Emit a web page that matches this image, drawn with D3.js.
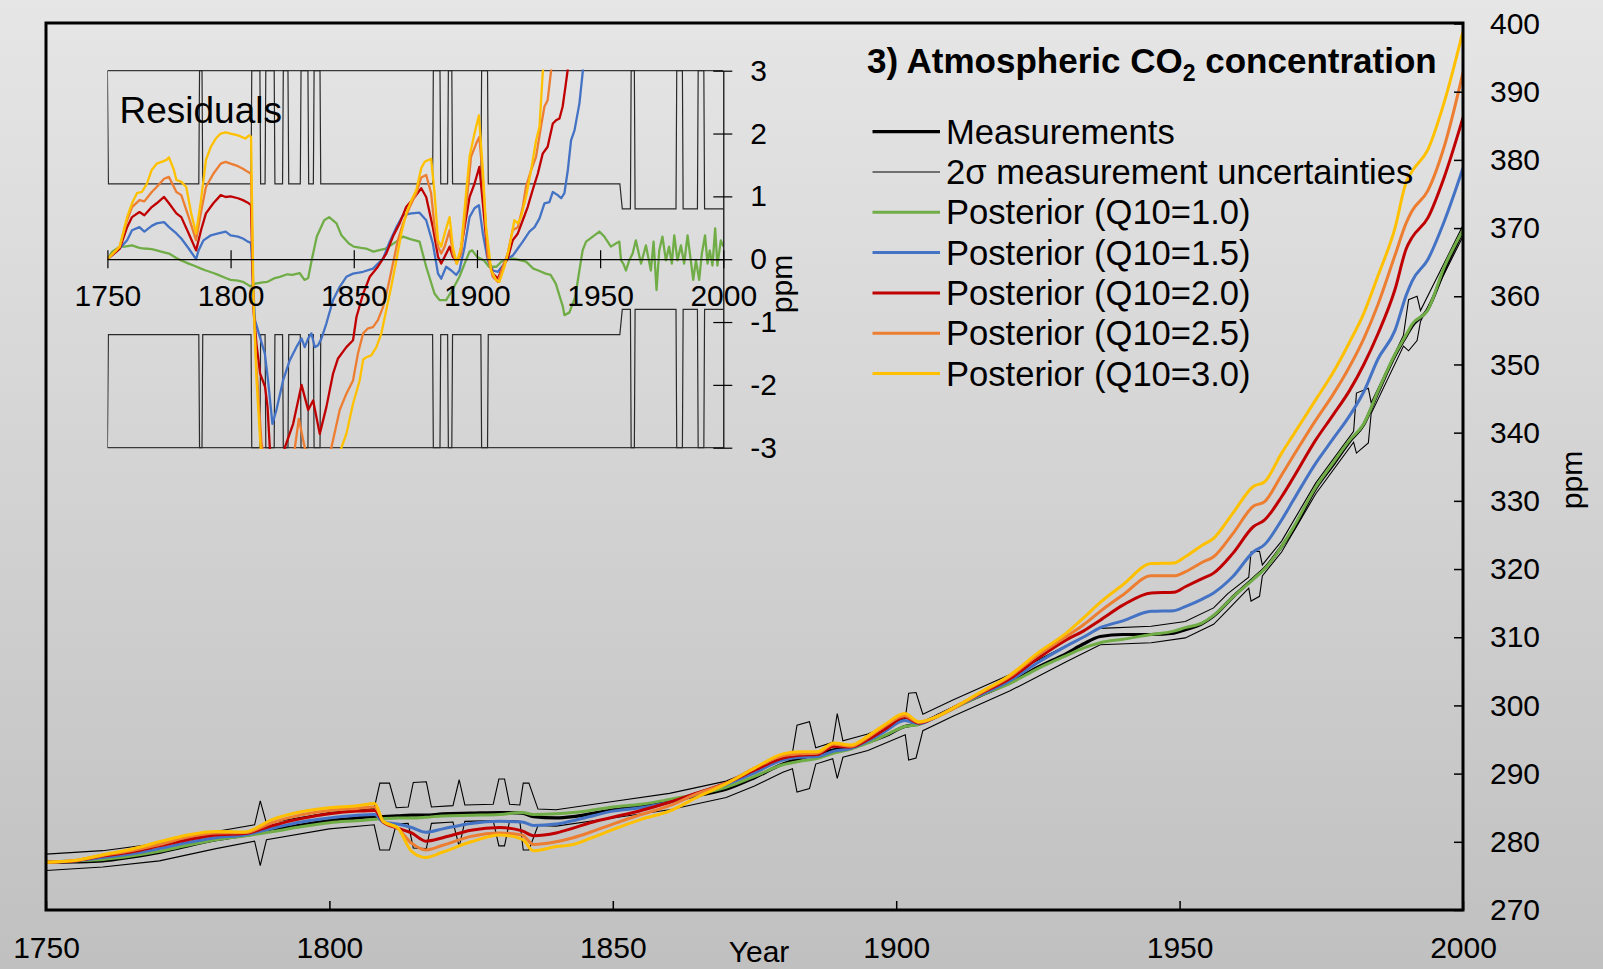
<!DOCTYPE html>
<html>
<head>
<meta charset="utf-8">
<script src="https://cdn.jsdelivr.net/npm/d3@7/dist/d3.min.js"></script>
<style>
  html, body { margin: 0; padding: 0; overflow: hidden; background: #d4d4d4; }
  svg text { font-family: "Liberation Sans", Arial, sans-serif; fill: #000; }
</style>
</head>
<body>
<svg id="main-svg" width="1603" height="969"></svg>
<script>
// years shared by the measurement and the posterior curves of the main panel
const measYears = [
  1750,1755,1760,1765,1770,1775,1780,1785,1790,1795,
  1800,1805,1808,1809.5,1812,1814.5,1817,1820,1825,1830,
  1834,1836,1840,1843,1846,1850,1855,1860,1865,1870,
  1875,1880,1883,1886,1889,1892,1895,1898,1901.5,1904,
  1907,1910,1915,1920,1925,1930,1933,1936,1940,1945,
  1949,1951,1954,1956,1959.4,1963,1965,1968,1970,1974,
  1977,1980,1982.5,1985,1988,1990,1991,1993.8,1996.7,2000];

const measured = [
  277.0,277.05,277.2,277.75,278.45,279.4,280.3,280.95,281.7,282.45,
  283.1,283.5,283.7,283.7,283.8,283.9,283.9,284.1,284.2,284.3,
  284.2,283.7,283.5,283.7,284.1,284.7,285.2,285.9,286.8,287.7,
  289.4,291.4,292.2,292.8,293.5,293.9,294.6,295.5,296.9,297.3,
  298.4,299.6,301.5,303.3,305.6,307.6,309.0,310.1,310.4,310.4,
  310.6,311.1,312.0,313.1,315.9,318.6,320.1,323.3,325.7,331.8,
  335.2,338.7,341.2,345.9,351.3,354.2,355.6,358.1,363.8,369.6];

const postQ10_1_0 = [
  277.0,277.2,277.4,277.9,278.6,279.5,280.3,280.85,281.5,282.2,
  282.8,283.1,283.3,283.4,283.5,283.5,283.6,283.8,283.9,284.0,
  284.3,284.0,284.1,284.3,284.6,285.1,285.5,286.2,287.0,288.0,
  289.6,291.3,291.8,292.2,293.0,293.6,294.5,295.6,296.9,297.2,
  298.3,299.5,301.5,303.2,305.4,307.3,308.4,309.2,309.7,310.4,
  310.9,311.4,312.1,313.2,315.9,318.5,320.0,323.3,326.0,332.0,
  335.5,338.9,341.3,346.1,351.5,354.4,355.9,358.0,364.3,369.7];

const postQ10_1_5 = [
  277.0,277.2,277.7,278.2,279.0,279.9,280.6,281.0,282.0,282.9,
  283.5,283.9,284.0,282.9,282.6,282.1,281.4,281.9,282.7,283.0,
  282.9,282.4,282.6,283.1,283.7,284.5,285.0,285.8,287.0,288.4,
  290.1,292.0,292.4,292.5,293.3,293.7,294.8,296.2,297.8,297.3,
  298.3,299.6,301.6,303.6,306.3,308.7,310.0,311.4,312.4,313.8,
  313.9,314.5,315.6,316.5,318.9,322.5,323.6,327.2,330.0,335.5,
  339.0,342.5,346.0,350.8,355.0,360.2,362.2,365.4,371.0,378.8];

const postQ10_2_0 = [
  277.0,277.2,277.9,278.5,279.4,280.3,281.0,281.2,282.4,283.4,
  284.1,284.5,284.6,282.9,282.0,281.3,280.1,280.6,281.7,282.1,
  281.6,280.9,281.3,282.0,282.8,283.6,284.6,285.8,287.2,288.6,
  290.5,292.3,292.7,292.8,294.0,293.9,295.0,296.5,298.3,297.4,
  298.3,299.6,301.8,303.9,306.9,309.6,310.9,312.5,314.7,316.5,
  316.6,317.4,318.6,319.4,322.3,326.2,327.2,330.6,333.3,338.9,
  342.5,346.2,350.0,354.5,361.0,367.0,368.6,371.5,377.5,386.2];

const postQ10_2_5 = [
  277.0,277.25,278.0,278.7,279.6,280.7,281.3,281.35,282.85,283.95,
  284.6,284.9,285.1,283.0,282.0,279.8,278.8,279.5,280.8,281.3,
  281.0,279.6,280.0,280.6,281.4,282.6,284.0,285.3,287.1,288.6,
  290.8,292.6,292.9,293.0,294.3,294.0,295.3,297.0,298.5,297.5,
  298.3,299.5,301.9,304.2,307.4,310.1,311.8,313.8,316.2,319.0,
  319.0,319.6,321.0,321.8,325.2,329.2,329.9,333.8,336.5,341.8,
  345.5,349.7,353.8,358.8,366.0,370.8,372.5,375.5,382.0,392.8];

const postQ10_3_0 = [
  277.0,277.25,278.1,278.9,280.0,281.0,281.5,281.45,283.3,284.4,
  285.0,285.3,285.6,283.0,282.1,278.6,277.7,278.5,280.0,281.0,
  280.4,278.7,279.3,279.6,280.5,281.8,283.3,284.5,286.6,288.5,
  290.8,292.9,293.2,293.2,294.5,294.2,295.5,297.2,298.8,297.6,
  298.3,299.6,302.0,304.4,307.7,310.6,312.8,315.1,317.7,320.8,
  320.9,321.8,323.5,324.5,328.2,332.1,332.8,337.0,339.6,344.8,
  348.7,353.3,357.5,363.0,370.0,376.8,378.3,381.5,388.5,398.9];

// 2 sigma measurement band of the main panel, [year, ppm]
const bandUpper = [
  [1750,278.2],[1760,278.7],[1770,279.8],[1780,281.5],[1786.8,282.5],[1787.8,286.0],[1788.9,282.7],
  [1800,284.3],[1807.9,284.9],[1808.9,288.6],[1810.6,288.6],[1811.8,285.0],[1813.9,285.1],[1814.8,288.7],
  [1817.1,288.8],[1818.0,285.1],[1821.8,285.3],[1822.9,289.1],[1823.9,285.4],[1828.9,285.5],[1829.9,289.2],
  [1830.9,289.2],[1831.8,285.5],[1833.6,285.4],[1834.2,288.6],[1835.2,288.6],[1836.8,284.8],[1840,284.7],
  [1850,285.9],[1860,287.1],[1870,288.9],[1875,290.6],[1880,292.6],[1881.7,293.1],[1882.5,297.1],
  [1884.7,297.6],[1885.8,293.8],[1888.8,294.6],[1889.6,298.8],[1890.6,294.8],[1895,295.8],[1901.6,298.1],
  [1902.2,301.8],[1903.5,301.9],[1904.7,298.7],[1910,300.8],[1920,304.5],[1930,308.8],[1936,311.3],
  [1945,311.6],[1951,312.3],[1956,314.3],[1958.5,316.4],[1962.2,318.8],[1962.6,322.5],[1964.1,322.6],
  [1964.6,320.6],[1968,324.1],[1974,332.6],[1980.7,340.2],[1981.2,345.8],[1983.3,346.5],[1983.8,344.4],
  [1989.5,354.3],[1990.4,359.5],[1991.9,360.0],[1992.5,357.9],[2000,370.4]];

const bandLower = [
  [1750,275.8],[1760,276.3],[1770,277.2],[1780,279.0],[1786.8,280.1],[1787.8,276.5],[1788.9,280.3],
  [1800,281.9],[1807.9,282.5],[1808.9,278.8],[1810.6,278.8],[1811.8,282.6],[1813.9,282.7],[1814.8,279.1],
  [1817.1,279.0],[1818.0,282.7],[1821.8,282.9],[1822.9,279.3],[1823.9,283.0],[1828.9,283.1],[1829.9,279.4],
  [1830.9,279.4],[1831.8,283.1],[1833.6,283.0],[1834.2,278.8],[1835.2,278.8],[1836.8,282.4],[1840,282.3],
  [1850,283.5],[1860,284.7],[1870,286.5],[1875,288.2],[1880,290.2],[1881.7,290.7],[1882.5,287.3],
  [1884.7,287.8],[1885.8,291.4],[1888.8,292.2],[1889.6,289.3],[1890.6,292.4],[1895,293.4],[1901.6,295.7],
  [1902.2,292.0],[1903.5,292.3],[1904.7,296.3],[1910,298.4],[1920,302.1],[1930,306.4],[1936,308.9],
  [1945,309.2],[1951,309.9],[1956,311.9],[1958.5,314.0],[1962.2,317.2],[1962.6,315.3],[1964.1,316.0],
  [1964.6,319.0],[1968,322.5],[1974,331.0],[1980.7,338.6],[1981.2,337.0],[1983.3,338.5],[1983.8,342.8],
  [1989.5,352.7],[1990.4,352.0],[1991.9,353.5],[1992.5,356.3],[2000,368.8]];

// residuals (inset), [year, ppm]
const resQ10_1_0 = [
  [1750,0],[1752,0.12],[1755,0.2],[1757,0.2],[1760,0.22],[1763,0.18],[1765,0.17],[1768,0.16],[1770,0.14],
  [1773,0.11],[1775,0.09],[1778,0.02],[1780,-0.02],[1783,-0.07],[1785,-0.1],[1788,-0.15],[1790,-0.18],
  [1793,-0.22],[1795,-0.25],[1798,-0.3],[1800,-0.33],[1803,-0.34],[1805,-0.36],[1808,-0.43],[1810,-0.39],
  [1813,-0.37],[1815,-0.36],[1818,-0.3],[1820,-0.28],[1823,-0.24],[1825,-0.25],[1828,-0.22],[1830,-0.33],
  [1831.5,-0.3],[1833,0],[1835,0.36],[1838,0.62],[1840,0.67],[1843,0.57],[1845,0.38],[1848,0.25],
  [1850,0.2],[1853,0.18],[1855,0.17],[1858,0.12],[1860,0.14],[1863,0.17],[1865,0.22],[1868,0.3],
  [1870,0.36],[1873,0.32],[1876.7,0.28],[1879.4,-0.12],[1882.8,-0.55],[1884.8,-0.65],[1887.5,-0.65],
  [1890,-0.49],[1892.9,-0.28],[1895,-0.07],[1897,0.12],[1898.1,0.14],[1900,0.04],[1902.9,-0.02],
  [1904.9,-0.12],[1907.9,-0.12],[1909.9,-0.04],[1912.9,0.01],[1914.9,0.01],[1917.9,-0.02],[1919.9,-0.04],
  [1922.9,-0.15],[1924.9,-0.18],[1927.9,-0.23],[1929.9,-0.25],[1932,-0.39],[1934.9,-0.76],[1935.5,-0.89],
  [1937.5,-0.85],[1939.9,-0.6],[1941.5,-0.2],[1942.9,0.14],[1944.3,0.28],[1947,0.36],[1949.7,0.44],
  [1951.7,0.36],[1954.4,0.2],[1956.4,0.25],[1957.8,0.28],[1958.5,-0.02],[1959.4,-0.07],[1960.5,-0.18],
  [1961.8,-0.02],[1963.2,0.09],[1964.5,0.3],[1966.6,-0.07],[1968.6,0.22],[1970.6,-0.18],[1971.7,0.28],
  [1972.9,-0.49],[1974,0.14],[1975.3,0.36],[1976.7,-0.02],[1978,0.2],[1979.1,-0.07],[1980.1,0.38],
  [1981.4,-0.02],[1982.8,0.22],[1984.1,-0.07],[1985.5,0.38],[1986.8,-0.02],[1987.8,-0.33],[1988.9,-0.02],
  [1990.2,-0.33],[1991.3,0.09],[1992.6,0.38],[1993.6,-0.07],[1994.5,0.14],[1995.6,-0.1],[1996.7,0.49],
  [1997.6,-0.1],[1999,0.3],[2000,0.2]];

const resQ10_1_5 = [
  [1750,0],[1753,0.1],[1755,0.17],[1758,0.3],[1760,0.46],[1763,0.51],[1765,0.44],[1768,0.53],[1770,0.57],
  [1773,0.59],[1775,0.51],[1778,0.41],[1780,0.33],[1783,0.17],[1786,0.0],[1787,0.14],[1789,0.3],[1792,0.38],
  [1795,0.41],[1798,0.44],[1800,0.38],[1803,0.36],[1805,0.33],[1807,0.28],[1808.3,0.26],[1809.9,-0.97],
  [1811.9,-1.24],[1813.9,-1.5],[1815.2,-1.93],[1817,-2.62],[1818.6,-2.4],[1821.3,-1.93],[1824,-1.61],
  [1826.7,-1.4],[1828.8,-1.26],[1830.1,-1.4],[1831.5,-1.26],[1832.8,-1.18],[1834.2,-1.4],[1835.5,-1.37],
  [1836.9,-1.26],[1838.9,-1.02],[1841.6,-0.65],[1844.3,-0.44],[1847,-0.28],[1849.7,-0.23],[1853.8,-0.2],
  [1857.8,-0.15],[1861.9,0.01],[1864.6,0.28],[1867.3,0.51],[1870,0.7],[1873.4,0.73],[1876.7,0.74],
  [1879.4,0.62],[1882.1,0.25],[1884.2,-0.23],[1885.5,-0.31],[1887.5,-0.12],[1889.6,-0.18],[1891.6,-0.25],
  [1892.9,-0.18],[1895,0.2],[1897,0.67],[1899,0.81],[1900.8,0.86],[1902.4,0.41],[1904.4,-0.02],
  [1906.5,-0.18],[1908.5,-0.2],[1910.5,-0.1],[1912.5,0.01],[1914.6,0.06],[1916.6,0.17],[1918.6,0.28],
  [1921.3,0.44],[1923.4,0.51],[1925.4,0.65],[1927.4,0.89],[1929.4,0.91],[1930.8,1.07],[1932.8,1.02],
  [1934.2,0.97],[1935.5,1.05],[1936.9,1.42],[1938.2,1.89],[1939.6,2.05],[1941.6,2.48],[1943,3.0],[1945,3.8]];

const resQ10_2_0 = [
  [1750,0],[1753,0.1],[1755,0.17],[1758,0.51],[1760,0.67],[1763,0.75],[1765,0.7],[1768,0.83],[1770,0.89],
  [1773,0.99],[1775,0.89],[1778,0.73],[1780,0.67],[1783,0.41],[1786,0.14],[1788,0.46],[1790,0.73],
  [1793,0.89],[1796,1.02],[1798,0.99],[1800,1.0],[1803,0.97],[1805,0.94],[1807,0.9],[1808.3,0.86],
  [1809.3,-0.8],[1810.5,-1.35],[1812,-1.82],[1814,-2.03],[1815,-2.35],[1816.5,-3.4],[1819,-3.8],
  [1822,-3.0],[1825.4,-2.62],[1828.8,-2.0],[1831.5,-2.4],[1833.5,-2.25],[1836.2,-2.78],[1838.9,-2.35],
  [1841.6,-1.82],[1843.6,-1.58],[1847,-1.4],[1849.7,-1.29],[1851.1,-0.92],[1853.8,-0.55],[1856.5,-0.28],
  [1859.8,-0.12],[1863.2,0.09],[1865.9,0.36],[1868.6,0.57],[1871.3,0.83],[1874.7,0.99],[1877.4,1.13],
  [1879.4,0.99],[1882.1,0.51],[1884.2,0.04],[1885.5,-0.07],[1886.9,0.04],[1888.9,0.2],[1890.2,0.04],
  [1891.6,-0.02],[1892.9,0.04],[1895,0.51],[1897,0.99],[1899,1.2],[1901,1.47],[1902.4,0.89],[1904.4,0.04],
  [1906.4,-0.23],[1908.5,-0.31],[1910.5,-0.12],[1912.5,0.01],[1914.5,0.3],[1916.6,0.41],[1918.6,0.62],
  [1920.6,0.83],[1922.6,1.1],[1924.7,1.36],[1926.7,1.68],[1928.7,1.79],[1930.8,2.16],[1932.1,2.21],
  [1933.5,2.24],[1934.8,2.43],[1935.9,2.74],[1936.8,3.0],[1939,4.0]];

const resQ10_2_5 = [
  [1750,0],[1753,0.12],[1755,0.2],[1758,0.62],[1760,0.83],[1763,0.94],[1765,0.92],[1768,1.07],[1770,1.15],
  [1773,1.28],[1775,1.31],[1778,1.07],[1780,1.02],[1783,0.67],[1786,0.3],[1788,0.75],[1790,1.15],
  [1793,1.36],[1796,1.52],[1798,1.55],[1800,1.52],[1803,1.48],[1805,1.44],[1807,1.39],[1808.3,1.36],
  [1809.3,-0.75],[1810.5,-1.7],[1812.5,-2.9],[1814,-3.3],[1820,-3.8],[1826.1,-3.0],[1827.7,-2.54],
  [1830.1,-3.0],[1835,-3.6],[1840.9,-3.0],[1844.3,-2.4],[1847,-2.14],[1849.7,-1.93],[1851.7,-1.5],
  [1853.8,-1.18],[1855.8,-1.1],[1857.8,-1.08],[1859.8,-0.97],[1861.9,-0.76],[1863.9,-0.44],[1865.9,-0.07],
  [1867.9,0.3],[1870,0.57],[1872.7,0.83],[1875.4,1.05],[1877.4,1.3],[1879.4,1.34],[1881.4,1.05],
  [1882.8,0.51],[1884.2,0.2],[1885.5,0.09],[1886.9,0.2],[1888.9,0.46],[1890.2,0.09],[1891.8,-0.07],
  [1893.6,0.09],[1895.6,0.83],[1897.6,1.63],[1899.7,1.84],[1901,1.95],[1902.4,1.26],[1904.4,0.04],
  [1906.4,-0.28],[1908.5,-0.36],[1910.5,-0.12],[1912.5,0.09],[1914.5,0.46],[1916.6,0.51],[1918.6,0.83],
  [1919.9,1.15],[1922,1.42],[1924,1.63],[1926,2.11],[1927.4,2.43],[1928.7,2.53],[1930.1,3.0],[1932,4.0]];

const resQ10_3_0 = [
  [1750,0],[1753,0.12],[1755,0.2],[1758,0.67],[1760,0.89],[1762,1.05],[1764,1.07],[1766,1.2],[1768,1.42],
  [1770,1.52],[1772,1.55],[1774,1.58],[1775,1.62],[1777,1.42],[1778,1.26],[1780,1.23],[1782,1.15],
  [1784,0.73],[1786,0.41],[1788,0.94],[1790,1.58],[1792,1.79],[1794,1.92],[1796,2.0],[1798,2.02],
  [1800,2.0],[1803,1.97],[1806,1.92],[1807.5,1.97],[1808.3,1.95],[1809.3,-0.6],[1810.5,-1.9],[1812.5,-3.2],
  [1820,-4.0],[1835,-4.0],[1845,-3.0],[1847,-2.78],[1849.7,-2.3],[1852.4,-1.93],[1853.8,-1.6],
  [1855.1,-1.56],[1857.1,-1.53],[1859.2,-1.4],[1861.2,-1.18],[1863.2,-0.81],[1865.2,-0.44],[1867.3,-0.02],
  [1869.3,0.41],[1871.3,0.73],[1873.4,0.94],[1875.4,1.1],[1877.4,1.45],[1878.8,1.55],[1881.4,1.6],
  [1882.8,1.05],[1884.2,0.3],[1885.5,0.2],[1886.9,0.41],[1888.9,0.67],[1890.2,0.2],[1891.8,-0.07],
  [1893.6,0.2],[1895.6,1.05],[1897,1.63],[1899,2.0],[1900.8,2.29],[1902.4,1.42],[1903.7,0.51],
  [1905.8,-0.18],[1907.8,-0.33],[1909.1,-0.36],[1911.2,-0.12],[1913.2,0.2],[1915.2,0.62],[1916.6,0.57],
  [1917.9,0.67],[1919.9,0.99],[1922,1.42],[1924,1.89],[1925.4,2.11],[1926.7,2.96],[1927.4,3.2],[1929,4.5]];

// 2 sigma band in residual space (clipped at +/-3 in the picture)
const resBandUpper = [
  [1750,3],[1750.4,1.2],[1787.1,1.2],[1787.4,3],[1788.4,3],[1788.7,1.2],[1808.3,1.2],[1808.6,3],
  [1811.9,3],[1812.2,1.2],[1814.0,1.2],[1814.3,3],[1817.7,3],[1818.0,1.2],[1821.1,1.2],[1821.4,3],
  [1823.3,3],[1823.6,1.2],[1828.3,1.2],[1828.6,3],[1831.4,3],[1831.7,1.2],[1833.6,1.2],[1833.9,3],
  [1836.3,3],[1836.6,1.2],[1882.0,1.2],[1882.3,3],[1885.0,3],[1885.3,1.2],[1888.1,1.2],[1888.4,3],
  [1889.8,3],[1890.1,1.2],[1901.6,1.2],[1901.9,3],[1904.3,3],[1904.6,1.2],[1958.0,1.2],[1959.0,0.8],
  [1962.3,0.8],[1962.6,3],[1963.9,3],[1964.2,0.8],[1980.8,0.8],[1981.1,3],[1983.4,3],[1983.7,0.8],
  [1989.5,0.8],[1989.8,3],[1992.1,3],[1992.4,0.8],[2000,0.8]];

const resBandLower = [
  [1750,-3],[1750.4,-1.2],[1787.1,-1.2],[1787.4,-3],[1788.4,-3],[1788.7,-1.2],[1808.3,-1.2],[1808.6,-3],
  [1811.9,-3],[1812.2,-1.2],[1814.0,-1.2],[1814.3,-3],[1817.7,-3],[1818.0,-1.2],[1821.1,-1.2],[1821.4,-3],
  [1823.3,-3],[1823.6,-1.2],[1828.3,-1.2],[1828.6,-3],[1831.4,-3],[1831.7,-1.2],[1833.6,-1.2],[1833.9,-3],
  [1836.3,-3],[1836.6,-1.2],[1882.0,-1.2],[1882.3,-3],[1885.0,-3],[1885.3,-1.2],[1888.1,-1.2],[1888.4,-3],
  [1889.8,-3],[1890.1,-1.2],[1901.6,-1.2],[1901.9,-3],[1904.3,-3],[1904.6,-1.2],[1958.0,-1.2],[1959.0,-0.8],
  [1962.3,-0.8],[1962.6,-3],[1963.9,-3],[1964.2,-0.8],[1980.8,-0.8],[1981.1,-3],[1983.4,-3],[1983.7,-0.8],
  [1989.5,-0.8],[1989.8,-3],[1992.1,-3],[1992.4,-0.8],[2000,-0.8]];

const xTicks = [1750, 1800, 1850, 1900, 1950, 2000];
const yTicks = [270, 280, 290, 300, 310, 320, 330, 340, 350, 360, 370, 380, 390, 400];
const resTicks = [-3, -2, -1, 0, 1, 2, 3];

const legendLabels = ["Measurements", "2\u03c3 measurement uncertainties", "Posterior (Q10=1.0)",
  "Posterior (Q10=1.5)", "Posterior (Q10=2.0)", "Posterior (Q10=2.5)", "Posterior (Q10=3.0)"];
const legendColors = ["#000000", "#000000", "#70ad47", "#4472c4", "#c00000", "#ed7d31", "#ffc000"];
const legendWidths = [3.2, 1.1, 3, 3, 3, 3, 3];

var svg = d3.select("#main-svg");
var W = 1603, H = 969;
var font = "'Liberation Sans', Arial, sans-serif";

// background gradient
var defs = svg.append("defs");
var grad = defs.append("linearGradient").attr("id", "bg")
    .attr("x1", 0).attr("y1", 0).attr("x2", 0).attr("y2", 1);
grad.append("stop").attr("offset", "0%").attr("stop-color", "#e6e6e6");
grad.append("stop").attr("offset", "100%").attr("stop-color", "#c0c0c0");
svg.append("rect").attr("width", W).attr("height", H).attr("fill", "url(#bg)");

// main panel scales
var x = d3.scaleLinear().domain([1750, 2000]).range([46, 1463]);
var y = d3.scaleLinear().domain([270, 400]).range([910, 23.5]);

defs.append("clipPath").attr("id", "clip-main").append("rect")
    .attr("x", 46).attr("y", 22).attr("width", 1417).attr("height", 888);

var plot = svg.append("g").attr("clip-path", "url(#clip-main)");

var bandLine = d3.line().x(d => x(d[0])).y(d => y(d[1]));
var smoothLine = d3.line().x(d => x(d[0])).y(d => y(d[1])).curve(d3.curveMonotoneX);

function pairs(values) { return measYears.map((yr, i) => [yr, values[i]]); }

// uncertainty band
[bandUpper, bandLower].forEach(b => {
    plot.append("path").datum(b)
        .attr("fill", "none").attr("stroke", "#000").attr("stroke-width", 1.1)
        .attr("stroke-linejoin", "miter")
        .attr("d", bandLine);
});

// measurements
plot.append("path").datum(pairs(measured))
    .attr("fill", "none").attr("stroke", "#000").attr("stroke-width", 3.2)
    .attr("d", smoothLine);

var posteriors = [
    { values: postQ10_1_0, res: resQ10_1_0, color: legendColors[2] },
    { values: postQ10_1_5, res: resQ10_1_5, color: legendColors[3] },
    { values: postQ10_2_0, res: resQ10_2_0, color: legendColors[4] },
    { values: postQ10_2_5, res: resQ10_2_5, color: legendColors[5] },
    { values: postQ10_3_0, res: resQ10_3_0, color: legendColors[6] }
];

posteriors.forEach(p => {
    plot.append("path").datum(pairs(p.values))
        .attr("fill", "none").attr("stroke", p.color).attr("stroke-width", 3)
        .attr("stroke-linejoin", "round")
        .attr("d", smoothLine);
});

// frame
svg.append("rect").attr("x", 46).attr("y", 23).attr("width", 1417).attr("height", 887)
    .attr("fill", "none").attr("stroke", "#000").attr("stroke-width", 3);

// bottom axis
var gx = svg.append("g").attr("transform", "translate(0,910)")
    .call(d3.axisBottom(x).tickValues(xTicks).tickFormat(d3.format("d"))
        .tickSizeInner(-9).tickSizeOuter(0).tickPadding(27));
gx.select(".domain").remove();
gx.attr("font-size", 30).attr("font-family", font);
gx.selectAll(".tick line").attr("stroke-width", 1.5);

// right axis
var gy = svg.append("g").attr("transform", "translate(1463,0)")
    .call(d3.axisRight(y).tickValues(yTicks)
        .tickSizeInner(-9).tickSizeOuter(0).tickPadding(27));
gy.select(".domain").remove();
gy.attr("font-size", 30).attr("font-family", font);
gy.selectAll(".tick line").attr("stroke-width", 1.5);

svg.append("text").attr("x", 759).attr("y", 962)
    .attr("text-anchor", "middle").attr("font-size", 30).text("Year");

svg.append("text").attr("transform", "translate(1582,480) rotate(-90)")
    .attr("text-anchor", "middle").attr("font-size", 30).text("ppm");

// title
var title = svg.append("text").attr("x", 867).attr("y", 72.7)
    .attr("font-size", 35).attr("font-weight", "bold");
title.append("tspan").text("3) Atmospheric CO");
title.append("tspan").attr("font-size", 23).attr("dy", 8).text("2");
title.append("tspan").attr("dy", -8).text(" concentration");

// legend
var legend = svg.append("g");
legendLabels.forEach((label, i) => {
    var ly = 131.7 + i * 40.3;
    legend.append("line")
        .attr("x1", 872.5).attr("x2", 940).attr("y1", ly).attr("y2", ly)
        .attr("stroke", legendColors[i]).attr("stroke-width", legendWidths[i]);
    legend.append("text").attr("x", 946).attr("y", ly + 12)
        .attr("font-size", 34.6).text(label);
});

// inset: residuals
var xi = d3.scaleLinear().domain([1750, 2000]).range([107.4, 723.3]);
var yi = d3.scaleLinear().domain([-3, 3]).range([447.7, 70.7]);

defs.append("clipPath").attr("id", "clip-inset").append("rect")
    .attr("x", 107.4).attr("y", 69.5).attr("width", 616).attr("height", 379.5);

var inset = svg.append("g").attr("clip-path", "url(#clip-inset)");
var resLine = d3.line().x(d => xi(d[0])).y(d => yi(d[1]));

// top and bottom edges at +/-3
[3, -3].forEach(v => {
    inset.append("line").attr("x1", xi(1750)).attr("x2", xi(2000))
        .attr("y1", yi(v)).attr("y2", yi(v))
        .attr("stroke", "#3a3a3a").attr("stroke-width", 1.2);
});

[resBandUpper, resBandLower].forEach(b => {
    inset.append("path").datum(b)
        .attr("fill", "none").attr("stroke", "#2a2a2a").attr("stroke-width", 1.2)
        .attr("d", resLine);
});

// inset x axis through zero
var gxi = svg.append("g").attr("transform", `translate(0,${yi(0)})`)
    .call(d3.axisBottom(xi).tickValues(xTicks).tickFormat(d3.format("d"))
        .tickSizeInner(9).tickSizeOuter(0).tickPadding(17));
gxi.selectAll(".tick line").attr("y1", -9).attr("stroke-width", 1.2);
gxi.select(".domain").attr("stroke-width", 1.2);
gxi.attr("font-size", 30).attr("font-family", font);

posteriors.forEach(p => {
    inset.append("path").datum(p.res)
        .attr("fill", "none").attr("stroke", p.color).attr("stroke-width", 2.3)
        .attr("stroke-linejoin", "round")
        .attr("d", resLine);
});

// inset right axis
var gyi = svg.append("g").attr("transform", `translate(${xi(2000)},0)`)
    .call(d3.axisRight(yi).tickValues(resTicks).tickFormat(d => String(d))
        .tickSizeInner(9).tickSizeOuter(0).tickPadding(18));
gyi.selectAll(".tick line").attr("x1", -10).attr("stroke-width", 1.2);
gyi.select(".domain").attr("stroke-width", 1.2);
gyi.attr("font-size", 30).attr("font-family", font);

svg.append("text").attr("x", 119.5).attr("y", 122.5)
    .attr("font-size", 37).text("Residuals");

svg.append("text").attr("transform", "translate(792,284) rotate(-90)")
    .attr("text-anchor", "middle").attr("font-size", 30).text("ppm");
</script>
</body>
</html>
